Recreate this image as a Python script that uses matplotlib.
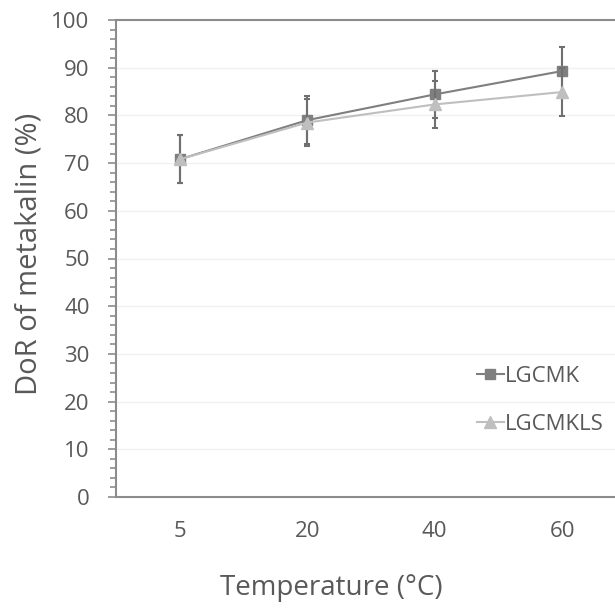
import matplotlib.pyplot as plt
from matplotlib.ticker import MultipleLocator

temps = ["5", "20", "40", "60"]
lgcmk = [70.8, 79.0, 84.4, 89.3]
lgcmk_err = [5.0, 5.0, 5.0, 5.0]
lgcmkls = [70.8, 78.5, 82.3, 84.9]
lgcmkls_err = [5.0, 5.0, 5.0, 5.0]

TXT = "#595959"
AX = "#8c8c8c"

plt.rcParams["font.family"] = ["Open Sans", "DejaVu Sans"]

fig = plt.figure(figsize=(6.15, 6.08), dpi=100)
ax = fig.add_axes([116 / 615, 1 - 497 / 608, 510 / 615, 477 / 608])

x = list(range(len(temps)))
ax.errorbar(x, lgcmk, yerr=lgcmk_err, color="#7f7f7f", marker="s", markersize=7.5,
            linewidth=1.5, ecolor="#6f6f6f", elinewidth=1.5, capsize=2.5, capthick=1.5,
            label="LGCMK", zorder=3)
ax.errorbar(x, lgcmkls, yerr=lgcmkls_err, color="#bfbfbf", marker="^", markersize=8,
            linewidth=1.5, ecolor="#707070", elinewidth=1.5, capsize=2.5, capthick=1.5,
            label="LGCMKLS", zorder=4)

ax.set_xlim(-0.5, 3.5)
ax.set_ylim(0, 100)
ax.set_xticks(x)
ax.set_xticklabels(temps)
ax.yaxis.set_major_locator(MultipleLocator(10))
ax.yaxis.set_minor_locator(MultipleLocator(2))
ax.grid(axis="y", color="#f0f0f0", linewidth=1)
ax.set_axisbelow(True)

for s in ax.spines.values():
    s.set_color(AX)
    s.set_linewidth(1.5)

ax.tick_params(axis="x", length=0, pad=17, labelsize=16, labelcolor=TXT)
ax.tick_params(axis="y", which="major", length=6, width=1.2, color=AX, pad=13,
               labelsize=16, labelcolor=TXT)
ax.tick_params(axis="y", which="minor", length=4, width=1.2, color=AX)

fig.text(331 / 615, 1 - 588 / 608, "Temperature (°C)", fontsize=20, color=TXT,
         ha="center", va="center")
fig.text(29 / 615, 1 - 254 / 608, "DoR of metakalin (%)", fontsize=21, color=TXT,
         ha="center", va="center", rotation=90)

h, l = ax.get_legend_handles_labels()
h = [hh[0] for hh in h]
leg = fig.legend(h, l, loc="upper left", bbox_to_anchor=(477 / 615, 1 - 366 / 608),
                 frameon=False, fontsize=16, labelspacing=1.2, handlelength=1.2,
                 handletextpad=0.05, borderaxespad=0, borderpad=0, labelcolor=TXT)

fig.savefig("out.png", dpi=100)
